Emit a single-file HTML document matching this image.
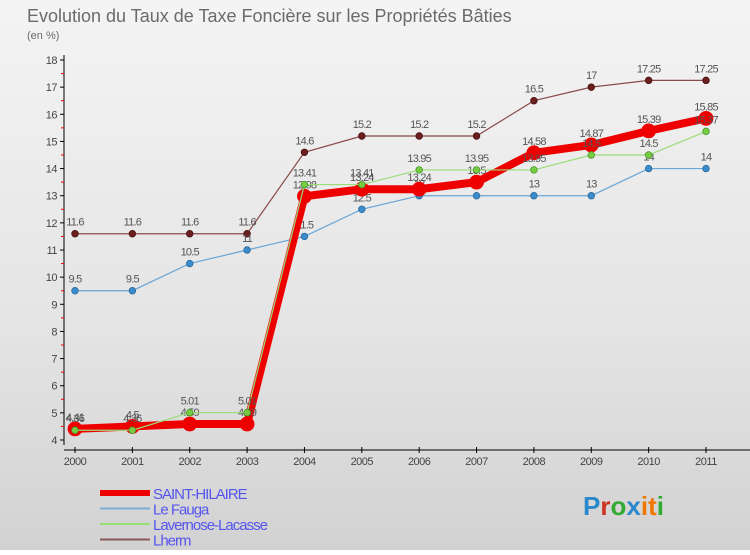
<!DOCTYPE html>
<html><head><meta charset="utf-8"><style>
body{margin:0;width:750px;height:550px;overflow:hidden;font-family:"Liberation Sans",sans-serif}
#wrap{position:relative;width:750px;height:550px;background:linear-gradient(#f4f4f4,#e4e4e4 60%,#d2d2d2)}
</style></head><body>
<div id="wrap">
<svg id="c" width="750" height="550"></svg>
</div>
<script>
const years=["2000","2001","2002","2003","2004","2005","2006","2007","2008","2009","2010","2011"];
const saintHilaire=[4.41,4.5,4.59,4.59,12.98,13.24,13.24,13.5,14.58,14.87,15.39,15.85];
const leFauga=[9.5,9.5,10.5,11,11.5,12.5,13,13,13,13,14,14];
const lavernose=[4.36,4.36,5.01,5.01,13.41,13.41,13.95,13.95,13.95,14.5,14.5,15.37];
const lherm=[11.6,11.6,11.6,11.6,14.6,15.2,15.2,15.2,16.5,17,17.25,17.25];
const yTicks=[4,5,6,7,8,9,10,11,12,13,14,15,16,17,18];
const NS="http://www.w3.org/2000/svg",svg=document.getElementById('c');
const x0=75,x1=706,yb=440,yt=60,ymin=4,ymax=18;
const X=i=>x0+i*(x1-x0)/(years.length-1);
const Y=v=>yb-(v-ymin)*(yb-yt)/(ymax-ymin);
function el(t,a,p){const e=document.createElementNS(NS,t);for(const k in a)e.setAttribute(k,a[k]);(p||svg).appendChild(e);return e;}
function txt(s,a){const e=el('text',a);e.textContent=s;return e;}
const t1=txt("Evolution du Taux de Taxe Foncière sur les Propriétés Bâties",{x:27,y:22,'font-size':18,fill:'#6b6b6b'});

const t2=txt("(en %)",{x:27,y:39,'font-size':11,fill:'#6b6b6b'});

const ax=el('g',{});
el('line',{x1:64,y1:yt-5,x2:64,y2:yb+5,stroke:'#000'},ax);
el('line',{x1:64,y1:yb+10,x2:750,y2:yb+10,stroke:'#000'},ax);
yTicks.forEach(v=>{el('line',{x1:60,y1:Y(v),x2:64,y2:Y(v),stroke:'#000'},ax);
const t=txt(v,{x:57,y:Y(v)+4,'font-size':11,fill:'#444','text-anchor':'end','letter-spacing':'-0.5'});

if(v<ymax)el('line',{x1:61,y1:Y(v+0.5),x2:64,y2:Y(v+0.5),stroke:'#e00'},ax);});
years.forEach((y,i)=>{el('line',{x1:X(i),y1:yb+7,x2:X(i),y2:yb+13,stroke:'#000'},ax);
const t=txt(y,{x:X(i),y:yb+25,'font-size':11,fill:'#444','text-anchor':'middle','letter-spacing':'-0.5'});
});
function series(name,data,color,dot,w,r,dotStroke){
const g=el('g',{});
el('polyline',{points:data.map((v,i)=>X(i)+','+Y(v)).join(' '),fill:'none',stroke:color,'stroke-width':w},g);
data.forEach((v,i)=>{const c=el('circle',{cx:X(i),cy:Y(v),r:r,fill:dot,stroke:dotStroke,'stroke-width':0.8},g);

const t=txt(String(v),{x:X(i),y:Y(v)-8,'font-size':11,fill:'#555','text-anchor':'middle','letter-spacing':'-0.8'});
g.appendChild(t);});}
series('lherm',lherm,'#8a4a4a','#6b1f1f',1.2,3.3,'#4a1010');
series('le-fauga',leFauga,'#6aa6d6','#3a8ccc',1.2,3.3,'#2a6a9a');
series('saint-hilaire',saintHilaire,'#ee0000','#ee0000',8,7,'#e00');
series('lavernose-lacasse',lavernose,'#99dd77','#77cc44',1.2,3.3,'#4a9a2a');
const legend=[["SAINT-HILAIRE","#ee0000",6],["Le Fauga","#7aaed6",2],["Lavernose-Lacasse","#99dd77",2],["Lherm","#8a5a5a",2]];
legend.forEach((l,i)=>{const g=el('g',{});
const y=493+i*15.5;el('line',{x1:100,y1:y,x2:150,y2:y,stroke:l[1],'stroke-width':l[2]},g);
const t=txt(l[0],{x:153,y:y+6,'font-size':15,fill:'#5555ee','letter-spacing':'-1'});g.appendChild(t);});
const lg=el('text',{x:583,y:515,'font-size':26,'font-weight':'bold'});
[["P","#2a88cc"],["r","#cc3322"],["o","#33aa33"],["x","#2a88cc"],["i","#ee7700"],["t","#ee7700"],["i","#33aa33"]].forEach(p=>{const s=el('tspan',{fill:p[1]},lg);s.textContent=p[0];});
</script>
</body></html>
